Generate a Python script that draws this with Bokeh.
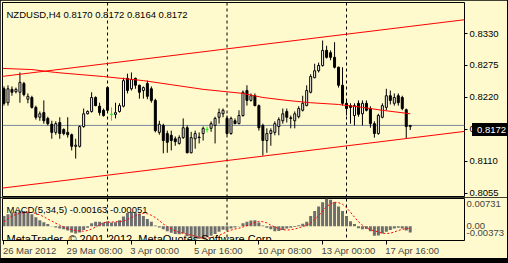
from bokeh.plotting import figure
from bokeh.models import Range1d, Span, Label, FixedTicker, PrintfTickFormatter, Div
from bokeh.layouts import column
from bokeh.embed import file_html
from bokeh.resources import INLINE

# ---------------- data ----------------
symbol_title = "NZDUSD,H4  0.8170 0.8172 0.8164 0.8172"
macd_title = "MACD(5,34,5) -0.00163 -0.00051"
copyright_text = "MetaTrader, \u00a9 2001-2012, MetaQuotes Software Corp."

opens = [0.8235, 0.8211, 0.8234, 0.8230, 0.8229, 0.8244, 0.8217, 0.8220, 0.8203, 0.8186,
         0.8194, 0.8184, 0.8174, 0.8160, 0.8177, 0.8165, 0.8160, 0.8156, 0.8136, 0.8136,
         0.8170, 0.8192, 0.8196, 0.8220, 0.8205, 0.8198, 0.8237, 0.8191, 0.8191, 0.8196,
         0.8205, 0.8253, 0.8235, 0.8253, 0.8241, 0.8232, 0.8244, 0.8235, 0.8215, 0.8160,
         0.8172, 0.8158, 0.8155, 0.8149, 0.8141, 0.8151, 0.8168, 0.8125, 0.8149, 0.8152,
         0.8158, 0.8165, 0.8167, 0.8172, 0.8186, 0.8192, 0.8184, 0.8158, 0.8180, 0.8175,
         0.8189, 0.8232, 0.8215, 0.8223, 0.8206, 0.8172, 0.8146, 0.8158, 0.8160, 0.8170,
         0.8180, 0.8196, 0.8185, 0.8180, 0.8187, 0.8198, 0.8206, 0.8229, 0.8254, 0.8266,
         0.8275, 0.8301, 0.8297, 0.8289, 0.8272, 0.8241, 0.8210, 0.8206, 0.8189, 0.8210,
         0.8192, 0.8210, 0.8201, 0.8175, 0.8158, 0.8186, 0.8203, 0.8223, 0.8210, 0.8223,
         0.8220, 0.8199, 0.8170]
highs = [0.8239, 0.8241, 0.8239, 0.8237, 0.8263, 0.8247, 0.8227, 0.8223, 0.8206, 0.8196,
         0.8215, 0.8187, 0.8180, 0.8179, 0.8186, 0.8167, 0.8186, 0.8158, 0.8149, 0.8172,
         0.8201, 0.8198, 0.8229, 0.8222, 0.8211, 0.8201, 0.8239, 0.8203, 0.8211, 0.8210,
         0.8254, 0.8261, 0.8263, 0.8254, 0.8242, 0.8239, 0.8249, 0.8239, 0.8218, 0.8180,
         0.8175, 0.8163, 0.8163, 0.8153, 0.8155, 0.8184, 0.8172, 0.8161, 0.8163, 0.8160,
         0.8170, 0.8170, 0.8179, 0.8187, 0.8201, 0.8201, 0.8189, 0.8187, 0.8184, 0.8198,
         0.8232, 0.8241, 0.8227, 0.8227, 0.8208, 0.8175, 0.8167, 0.8167, 0.8179, 0.8186,
         0.8201, 0.8201, 0.8189, 0.8196, 0.8205, 0.8223, 0.8241, 0.8260, 0.8278, 0.8280,
         0.8318, 0.8309, 0.8301, 0.8315, 0.8273, 0.8272, 0.8215, 0.8210, 0.8210, 0.8215,
         0.8215, 0.8215, 0.8205, 0.8179, 0.8192, 0.8210, 0.8235, 0.8232, 0.8227, 0.8227,
         0.8223, 0.8201, 0.8172]
lows = [0.8206, 0.8206, 0.8223, 0.8227, 0.8211, 0.8222, 0.8210, 0.8201, 0.8182, 0.8180,
        0.8175, 0.8172, 0.8149, 0.8156, 0.8149, 0.8155, 0.8151, 0.8129, 0.8115, 0.8134,
        0.8168, 0.8191, 0.8194, 0.8205, 0.8189, 0.8187, 0.8194, 0.8180, 0.8184, 0.8194,
        0.8203, 0.8227, 0.8232, 0.8235, 0.8218, 0.8218, 0.8217, 0.8211, 0.8160, 0.8156,
        0.8124, 0.8125, 0.8129, 0.8137, 0.8139, 0.8149, 0.8124, 0.8124, 0.8132, 0.8141,
        0.8146, 0.8160, 0.8161, 0.8141, 0.8175, 0.8186, 0.8156, 0.8156, 0.8174, 0.8174,
        0.8187, 0.8206, 0.8213, 0.8205, 0.8163, 0.8120, 0.8125, 0.8137, 0.8155, 0.8155,
        0.8175, 0.8177, 0.8167, 0.8167, 0.8184, 0.8196, 0.8205, 0.8227, 0.8253, 0.8263,
        0.8273, 0.8287, 0.8284, 0.8270, 0.8237, 0.8206, 0.8189, 0.8175, 0.8172, 0.8187,
        0.8172, 0.8196, 0.8168, 0.8151, 0.8156, 0.8184, 0.8198, 0.8208, 0.8206, 0.8206,
        0.8198, 0.8149, 0.8164]
closes = [0.8210, 0.8235, 0.8229, 0.8234, 0.8246, 0.8225, 0.8222, 0.8203, 0.8186, 0.8192,
          0.8180, 0.8175, 0.8160, 0.8175, 0.8158, 0.8158, 0.8156, 0.8136, 0.8138, 0.8170,
          0.8192, 0.8196, 0.8220, 0.8206, 0.8194, 0.8189, 0.8198, 0.8191, 0.8194, 0.8206,
          0.8249, 0.8232, 0.8251, 0.8241, 0.8229, 0.8237, 0.8222, 0.8215, 0.8163, 0.8174,
          0.8146, 0.8143, 0.8146, 0.8144, 0.8151, 0.8168, 0.8125, 0.8151, 0.8158, 0.8151,
          0.8167, 0.8165, 0.8175, 0.8184, 0.8194, 0.8198, 0.8158, 0.8184, 0.8175, 0.8189,
          0.8229, 0.8215, 0.8223, 0.8206, 0.8168, 0.8146, 0.8158, 0.8163, 0.8175, 0.8182,
          0.8192, 0.8186, 0.8184, 0.8192, 0.8201, 0.8210, 0.8232, 0.8256, 0.8266, 0.8275,
          0.8301, 0.8289, 0.8289, 0.8272, 0.8241, 0.8210, 0.8201, 0.8203, 0.8206, 0.8191,
          0.8210, 0.8198, 0.8175, 0.8158, 0.8189, 0.8206, 0.8223, 0.8215, 0.8220, 0.8211,
          0.8201, 0.8170, 0.8172]

ma_bars = [-0.25, 7, 13, 25, 35, 42, 50, 60, 65, 71, 77, 84, 90, 95, 102]
ma_values = [0.8270, 0.8268, 0.8263, 0.8256, 0.8249, 0.8242, 0.8234, 0.8227, 0.8220,
             0.8215, 0.8211, 0.8208, 0.8203, 0.8198, 0.8192]

channel_bars = [-0.75, 116]
channel_lower = [0.8064, 0.8162]
channel_upper = [0.8256, 0.8354]

bid_price = 0.8172
price_ticks = [0.8055, 0.8110, 0.8165, 0.8220, 0.8275, 0.8330]

macd_hist = [0.0027, 0.0032, 0.0036, 0.0038, 0.0041, 0.0040, 0.0036, 0.0032, 0.0024, 0.0016,
             0.0011, 0.0006, 0.0001, -0.0003, -0.0006, -0.0008, -0.0011, -0.0016, -0.0019, -0.0016,
             -0.0010, -0.0004, 0.0008, 0.0012, 0.0012, 0.0010, 0.0013, 0.0010, 0.0011, 0.0016,
             0.0026, 0.0035, 0.0038, 0.0036, 0.0033, 0.0027, 0.0019, 0.0012, 0.0002, -0.0003,
             -0.0008, -0.0013, -0.0017, -0.0020, -0.0021, -0.0019, -0.0026, -0.0030, -0.0032, -0.0033,
             -0.0032, -0.0029, -0.0025, -0.0020, -0.0014, -0.0009, -0.0010, -0.0006, -0.0003, 0.0001,
             0.0008, 0.0012, 0.0015, 0.0016, 0.0010, 0.0002, -0.0004, -0.0008, -0.0013, -0.0012,
             -0.0010, -0.0006, -0.0004, -0.0002, 0.0003, 0.0007, 0.0012, 0.0027, 0.0040, 0.0052,
             0.0063, 0.00731, 0.0070, 0.0064, 0.0052, 0.0040, 0.0027, 0.0013, 0.0006, -0.0005,
             -0.0008, -0.0007, -0.0013, -0.0025, -0.0024, -0.0019, -0.0014, -0.0010, -0.0006, -0.0004,
             -0.0006, -0.0011, -0.00163]
macd_signal = [0.0012, 0.0020, 0.0027, 0.0031, 0.0034, 0.0036, 0.0037, 0.0036, 0.0034, 0.0030,
               0.0025, 0.0019, 0.0014, 0.0008, 0.0003, -0.0002, -0.0006, -0.0009, -0.0011, -0.0012,
               -0.0013, -0.0011, -0.0007, -0.0002, 0.0004, 0.0009, 0.0011, 0.0011, 0.0012, 0.0012,
               0.0014, 0.0018, 0.0023, 0.0028, 0.0032, 0.0034, 0.0033, 0.0029, 0.0023, 0.0015,
               0.0006, -0.0001, -0.0007, -0.0012, -0.0016, -0.0018, -0.0021, -0.0023, -0.0026, -0.0029,
               -0.0031, -0.0031, -0.0030, -0.0027, -0.0024, -0.0019, -0.0014, -0.0010, -0.0007, -0.0005,
               -0.0002, 0.0002, 0.0006, 0.0010, 0.0013, 0.0012, 0.0009, 0.0003, -0.0002, -0.0006,
               -0.0009, -0.0010, -0.0009, -0.0007, -0.0004, -0.0001, 0.0003, 0.0009, 0.0018, 0.0028,
               0.0040, 0.0052, 0.0059, 0.0063, 0.0062, 0.0058, 0.0049, 0.0037, 0.0024, 0.0012,
               0.0003, -0.0004, -0.0009, -0.0012, -0.0015, -0.0018, -0.0019, -0.0018, -0.0015, -0.0011,
               -0.0008, -0.0006, -0.00051]
macd_max = 0.00731
macd_min = -0.00373
macd_tick_labels = ["0.00731", "0.00", "-0.00373"]

time_labels = ["26 Mar 2012", "29 Mar 08:00", "3 Apr 00:00", "5 Apr 16:00",
               "10 Apr 08:00", "13 Apr 00:00", "17 Apr 16:00"]
time_label_bars = [0, 16, 32, 48, 64, 80, 96]
separator_bars = [26, 56, 86]

# ---------------- style ----------------
BG = "#FFFACD"
FONT = "Liberation Sans"
FS = "9.5px"
RED = "#FF0000"

bars = list(range(len(closes)))
x_range = Range1d(-0.375, 115.625)
y_range = Range1d(0.80498, 0.83833)
FRAME_TOP, FRAME_H = 2, 194


def style_fig(p):
    p.grid.visible = False
    p.background_fill_color = BG
    p.border_fill_color = BG
    p.outline_line_color = "black"
    p.outline_line_width = 1


# ---------------- main price chart ----------------
p1 = figure(width=507, height=197, x_range=x_range, y_range=y_range,
            output_backend="svg", toolbar_location=None, tools="",
            x_axis_location=None, y_axis_location="right",
            min_border_left=2, min_border_right=41, min_border_top=FRAME_TOP, min_border_bottom=1)
style_fig(p1)

ya = p1.yaxis[0]
ya.ticker = FixedTicker(ticks=price_ticks)
ya.formatter = PrintfTickFormatter(format="%.4f")
ya.axis_line_color = None
ya.major_tick_out = 3
ya.major_tick_in = 0
ya.minor_tick_line_color = None
ya.major_label_standoff = 2
ya.major_label_text_font = FONT
ya.major_label_text_font_size = FS
ya.major_label_text_color = "black"

for b in separator_bars:
    p1.add_layout(Span(location=b, dimension="height", line_color="black",
                       line_dash="3 3", line_width=1, level="underlay"))
p1.add_layout(Span(location=bid_price, dimension="width", line_color="#778899",
                   line_width=1, level="underlay"))

normal = [i for i in bars if opens[i] != closes[i]]
doji = [i for i in bars if opens[i] == closes[i]]

p1.segment(x0=normal, x1=normal, y0=[lows[i] for i in normal], y1=[highs[i] for i in normal],
           line_color="black", line_width=1)
p1.vbar(x=normal, width=0.5,
        top=[max(opens[i], closes[i]) for i in normal],
        bottom=[min(opens[i], closes[i]) for i in normal],
        fill_color=["white" if closes[i] > opens[i] else "black" for i in normal],
        line_color="black", line_width=1)
p1.segment(x0=doji, x1=doji, y0=[lows[i] for i in doji], y1=[highs[i] for i in doji],
           line_color="#00FF00", line_width=1)
p1.segment(x0=[i - 0.375 for i in doji], x1=[i + 0.375 for i in doji],
           y0=[opens[i] for i in doji], y1=[opens[i] for i in doji],
           line_color="#00FF00", line_width=1)

p1.line(channel_bars, channel_lower, line_color=RED, line_width=1)
p1.line(channel_bars, channel_upper, line_color=RED, line_width=1)
p1.line(ma_bars, ma_values, line_color=RED, line_width=1)

p1.add_layout(Label(x=4, y=182, x_units="screen", y_units="screen", text=symbol_title,
                    text_font=FONT, text_font_size=FS, text_color="black",
                    text_baseline="alphabetic", text_align="left"))

# ---------------- MACD window ----------------
p2 = figure(width=507, height=61, x_range=x_range, y_range=Range1d(macd_min, macd_max),
            output_backend="svg", toolbar_location=None, tools="",
            x_axis_location="below", y_axis_location="right",
            min_border_left=2, min_border_right=41, min_border_top=1, min_border_bottom=16)
style_fig(p2)

for b in separator_bars:
    p2.add_layout(Span(location=b, dimension="height", line_color="black",
                       line_dash="3 3", line_width=1, level="underlay"))

p2.vbar(x=bars, width=0.75, top=macd_hist, bottom=0, fill_color="#6E6E6E", line_color=None)
p2.line(bars, macd_signal, line_color=RED, line_width=1, line_dash="2 2")

# label positions of the indicator scale (max / zero / min marks, as drawn by the terminal)
span = macd_max - macd_min
macd_tick_pos = [macd_max - span * 5.7 / 44, 0.0, macd_max - span * 36 / 44]
ya2 = p2.yaxis[0]
ya2.ticker = FixedTicker(ticks=macd_tick_pos)
ya2.major_label_overrides = {v: t for v, t in zip(macd_tick_pos, macd_tick_labels)}
ya2.axis_line_color = None
ya2.major_tick_out = 0
ya2.major_tick_in = 0
ya2.major_tick_line_color = None
ya2.minor_tick_line_color = None
ya2.major_label_standoff = 2
ya2.major_label_text_font = FONT
ya2.major_label_text_font_size = FS

# time axis: text starts at the tick mark (left-aligned), so label centres are shifted
W = {c: 0.556 for c in "0123456789"}
W.update({" ": 0.278, ":": 0.278, "M": 0.833, "a": 0.556, "r": 0.333, "A": 0.667, "p": 0.556})


def text_w(s, size=9.5):
    return sum(W.get(ch, 0.556) for ch in s) * size


label_pos = [b + (text_w(t) / 2 - 1) / 4 for b, t in zip(time_label_bars, time_labels)]
xa = p2.xaxis[0]
xa.ticker = FixedTicker(ticks=label_pos, minor_ticks=time_label_bars)
xa.major_label_overrides = {v: t for v, t in zip(label_pos, time_labels)}
xa.axis_line_color = None
xa.major_tick_line_color = None
xa.major_tick_out = 4
xa.major_tick_in = 0
xa.minor_tick_line_color = "black"
xa.minor_tick_out = 4
xa.minor_tick_in = 0
xa.major_label_standoff = 0
xa.major_label_text_font = FONT
xa.major_label_text_font_size = FS

p2.add_layout(Label(x=4, y=31, x_units="screen", y_units="screen", text=macd_title,
                    text_font=FONT, text_font_size=FS, text_color="black",
                    text_baseline="alphabetic", text_align="left"))
p2.add_layout(Label(x=4, y=1.5, x_units="screen", y_units="screen", text=copyright_text,
                    text_font=FONT, text_font_size="11px", text_color="black",
                    text_baseline="alphabetic", text_align="left"))

# current-price tag on the price scale (outside the plot frame, so an HTML box)
bid_y = FRAME_TOP + (y_range.end - bid_price) / (y_range.end - y_range.start) * FRAME_H
bid_tag = Div(text=f"{bid_price:.4f}", width=39, height=13,
              styles={"position": "absolute", "left": "467px", "top": f"{bid_y - 6.5:.0f}px",
                      "background-color": "#000000", "color": "#FFFFFF",
                      "font-family": FONT, "font-size": FS, "line-height": "13px",
                      "padding-left": "5px", "box-sizing": "border-box", "z-index": "10",
                      "overflow": "hidden", "white-space": "nowrap"})

layout = column(p1, p2, bid_tag, width=508, height=263,
                styles={"background-color": "#000000", "position": "relative"})

open("out.html", "w").write(file_html(layout, INLINE))
